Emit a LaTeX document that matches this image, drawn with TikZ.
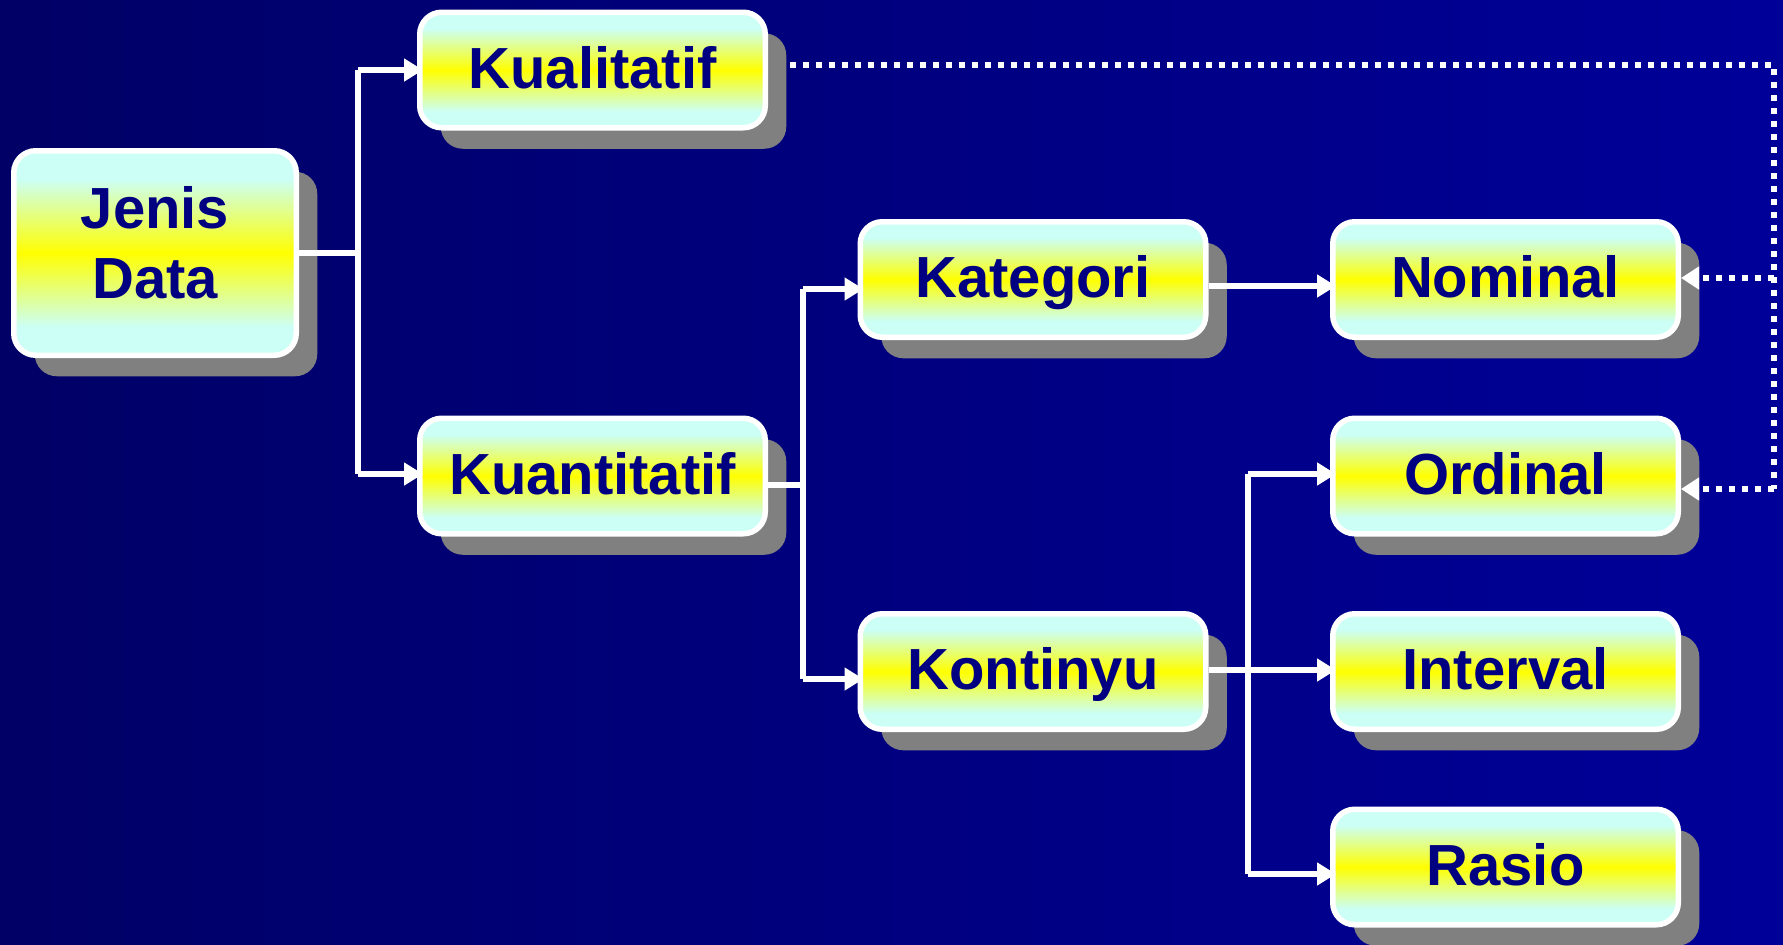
\documentclass[tikz,border=0pt]{standalone}
\usepackage{fontspec}
\setmainfont{Liberation Sans}
\usetikzlibrary{arrows.meta,shadows}
\definecolor{bgleft}{RGB}{0,0,102}
\definecolor{bgright}{RGB}{0,0,153}
\definecolor{boxcyan}{RGB}{204,255,245}
\definecolor{boxyellow}{RGB}{255,255,0}
\definecolor{txtnavy}{RGB}{0,0,128}
\definecolor{shadowgray}{RGB}{128,128,128}
\pgfdeclareverticalshading{boxshade}{100bp}{color(0bp)=(boxcyan); color(32bp)=(boxcyan); color(50bp)=(boxyellow); color(68bp)=(boxcyan); color(100bp)=(boxcyan)}
\begin{document}
\begin{tikzpicture}[x=1pt,y=-1pt,
  box/.style={rectangle, rounded corners=22pt, draw=white, line width=5.5pt,
    shading=boxshade,
    drop shadow={shadow xshift=21pt, shadow yshift=-21pt, fill=shadowgray, opacity=1},
    minimum width=345.5pt, minimum height=115.5pt, inner sep=0pt,
    font=\fontsize{58}{70}\selectfont\bfseries, text=txtnavy,
    text height=42pt, text depth=6pt},
  conn/.style={draw=white, line width=6pt},
  arr/.style={conn, -{Triangle[length=19pt,width=22pt]}, shorten >=-6pt},
  dotline/.style={draw=white, line width=6.5pt, dash pattern=on 6pt off 7pt},
  dotarr/.style={dotline, -{Triangle[length=18pt,width=22pt]}},
]
\shade[left color=bgleft, right color=bgright] (0,0) rectangle (1783,945);
\useasboundingbox (0,0) rectangle (1783,945);

\node[box, minimum width=282.5pt, minimum height=204.5pt, align=center,
      text height={}, text depth=22pt] (jd) at (155,253) {Jenis\\Data};
\node[box] (kual) at (592.5,70)   {Kualitatif};
\node[box] (kuan) at (592.5,476)  {Kuantitatif};
\node[box] (kat)  at (1033,279.5) {Kategori};
\node[box] (kon)  at (1033,671.5) {Kontinyu};
\node[box] (nom)  at (1505.5,279.5) {Nominal};
\node[box] (ord)  at (1505.5,476)   {Ordinal};
\node[box] (int)  at (1505.5,671.5) {Interval};
\node[box] (ras)  at (1505.5,867)   {Rasio};

% trunk 1
\coordinate (a1) at (358,70);
\coordinate (a2) at (358,474);
\draw[conn] (jd.east) -- (jd.east -| a1);
\draw[conn] (a1) -- (a2);
\draw[arr] (a1) -- (a1 -| kual.west);
\draw[arr] (a2) -- (a2 -| kuan.west);

% trunk 2
\coordinate (b0) at (803,485);
\coordinate (b1) at (803,289);
\coordinate (b2) at (803,679);
\draw[conn] (b0 -| kuan.east) -- (b0);
\draw[conn] (b1) -- (b2);
\draw[arr] (b1) -- (b1 -| kat.west);
\draw[arr] (b2) -- (b2 -| kon.west);

% level 3
\coordinate (k1) at (1140,286);
\coordinate (k2) at (1140,670);
\draw[arr] (k1 -| kat.east) -- (k1 -| nom.west);
\draw[arr] (k2 -| kon.east) -- (k2 -| int.west);
\coordinate (c1) at (1248,474);
\coordinate (c2) at (1248,874);
\draw[conn] (c1) -- (c2);
\draw[arr] (c1) -- (c1 -| ord.west);
\draw[arr] (c2) -- (c2 -| ras.west);

% dotted
\coordinate (d0) at (790,65);
\coordinate (d1) at (1774,65);
\coordinate (d2) at (1774,278);
\coordinate (d3) at (1774,489);
\draw[dotline] (d0) -- (d1) -- (d3);
\draw[dotarr] (d2) -- (d2 -| nom.east);
\draw[dotarr] (d3) -- (d3 -| ord.east);
\end{tikzpicture}
\end{document}
